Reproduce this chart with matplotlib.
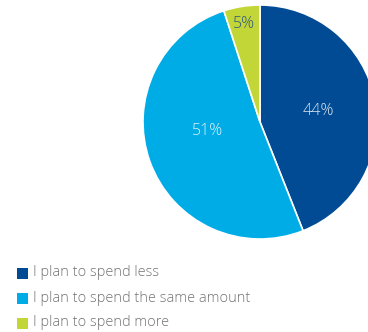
import matplotlib.pyplot as plt
from matplotlib.patches import Rectangle

labels = ["I plan to spend less", "I plan to spend the same amount", "I plan to spend more"]
shares = [44, 51, 5]
colors = ["#004b93", "#00ace6", "#c3d637"]
pct_colors = ["#dfe8f2", "#e0f2fb", "#2f5580"]
# label anchor points in pixel coords (x, y from top)
pct_pos = [(318, 111), (208, 131), (244, 24)]

plt.rcParams["font.family"] = ["Open Sans", "DejaVu Sans"]

W, H = 368, 332
fig = plt.figure(figsize=(W / 100, H / 100), dpi=100)
ax = fig.add_axes([0, 0, 1, 1])

wedges, texts, autotexts = ax.pie(
    shares, colors=colors, startangle=90, counterclock=False,
    center=(260, H - 122), radius=117,
    autopct="%d%%", pctdistance=0.5,
    wedgeprops=dict(edgecolor="white", linewidth=1.2),
)
for t, c, (px, py) in zip(autotexts, pct_colors, pct_pos):
    t.set_color(c)
    t.set_fontsize(11.5)
    t.set_fontweight("light")
    t.set_position((px, H - py))

ax.set_xlim(0, W)
ax.set_ylim(0, H)
ax.set_aspect("equal")
ax.axis("off")

# legend drawn as squares + text
for i, (lab, c) in enumerate(zip(labels, colors)):
    y = 273 + i * 25
    ax.add_patch(Rectangle((17, H - y - 5.5), 11, 11, facecolor=c, edgecolor="none"))
    ax.text(33, H - y, lab, fontsize=10.45, fontweight="light", color="#737373",
            va="center", ha="left")

fig.savefig("out.png", dpi=100)
